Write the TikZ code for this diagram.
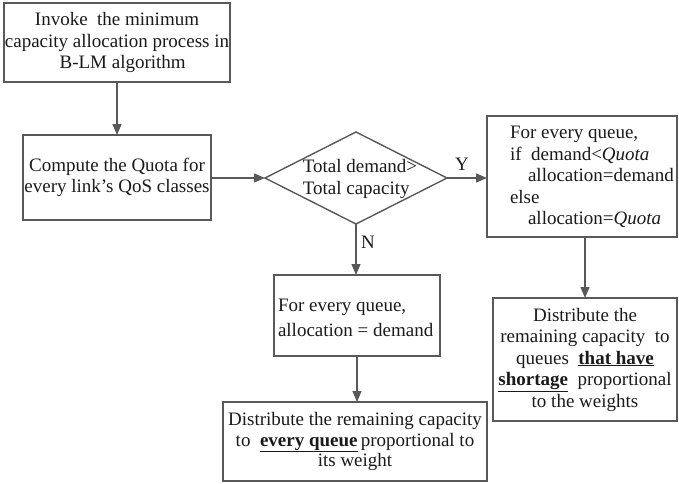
\documentclass[tikz,border=0pt]{standalone}
\usepackage{fontspec}
\setmainfont{Liberation Serif}
\usetikzlibrary{arrows.meta,shapes.geometric}

\definecolor{edgegray}{HTML}{595959}
\definecolor{inkblack}{HTML}{1A1A1A}

\begin{document}
\begin{tikzpicture}[x=1pt,y=-1pt,
  every node/.style={text=inkblack,font=\fontsize{19}{21.5}\selectfont},
  procbox/.style={draw=edgegray,line width=1.4pt,rectangle,inner sep=0pt,outer sep=0pt},
  decision/.style={draw=edgegray,line width=1.4pt,diamond,inner sep=0pt,outer sep=0pt},
  boxtext/.style={inner sep=0pt,outer sep=0pt},
  flow/.style={draw=edgegray,line width=1.4pt,-{Triangle[length=11pt,width=9pt]}},
  branch/.style={font=\fontsize{19}{21.5}\selectfont}
]
\useasboundingbox (0,0) rectangle (679,483);

% start box
\node[procbox,minimum width=226pt,minimum height=79pt,align=center]
  (start) at (117,42.5)
  {Invoke\ \ the minimum\\capacity allocation process in\\\hspace*{0.6em}B-LM algorithm};

% quota computation
\node[procbox,minimum width=188pt,minimum height=85pt,align=center]
  (quota) at (117,177.5)
  {Compute the Quota for\\every link’s QoS classes};

% demand test
\node[decision,minimum width=182pt,minimum height=92pt] (test) at (356,178) {};
\node[boxtext,align=left] (testtext) at (360,179)
  {Total demand>\\Total capacity};

% Y branch: quota-limited allocation
\node[procbox,minimum width=190pt,minimum height=121pt] (capped) at (582,176.5) {};
\node[boxtext,align=left,anchor=west] (cappedtext) at (510,177)
  {For every queue,\\
   if\ \ demand<\textit{Quota}\\
   \hspace*{0.95em}allocation=demand\\
   else\\
   \hspace*{0.95em}allocation=\textit{Quota}};

\node[procbox,minimum width=184pt,minimum height=123pt,align=center]
  (shortage) at (585,359.5)
  {Distribute the\\
   remaining capacity\ \ to\\
   queues\ \ \underline{\textbf{that have}}\\
   \underline{\textbf{shortage}}\ \ proportional\\
   to the weights};

% N branch: full allocation
\node[procbox,minimum width=166pt,minimum height=81pt] (full) at (357,315.5) {};
\node[boxtext,align=left,anchor=west,font=\fontsize{19}{25}\selectfont]
  (fulltext) at (278,318)
  {For every queue,\\allocation = demand};

\node[procbox,minimum width=264pt,minimum height=79pt,align=center,
  font=\fontsize{19}{20.5}\selectfont]
  (spread) at (355,441.5)
  {Distribute the remaining capacity\\
   to\ \ \underline{\textbf{every queue}}\,proportional to\\
   its weight};

% connectors
\draw[flow] (start.south) -- (quota.north);
\draw[flow] (quota.east |- test.west) -- (test.west);
\draw[flow] (test.east) -- (test.east -| capped.west);
\draw[flow] (shortage.north |- capped.south) -- (shortage.north);
\draw[flow] (test.south) -- (test.south |- full.north);
\draw[flow] (full.south) -- (full.south |- spread.north);

% branch labels
\node[branch] (ylabel) at (462,164) {Y};
\node[branch] (nlabel) at (368,242) {N};
\end{tikzpicture}
\end{document}
